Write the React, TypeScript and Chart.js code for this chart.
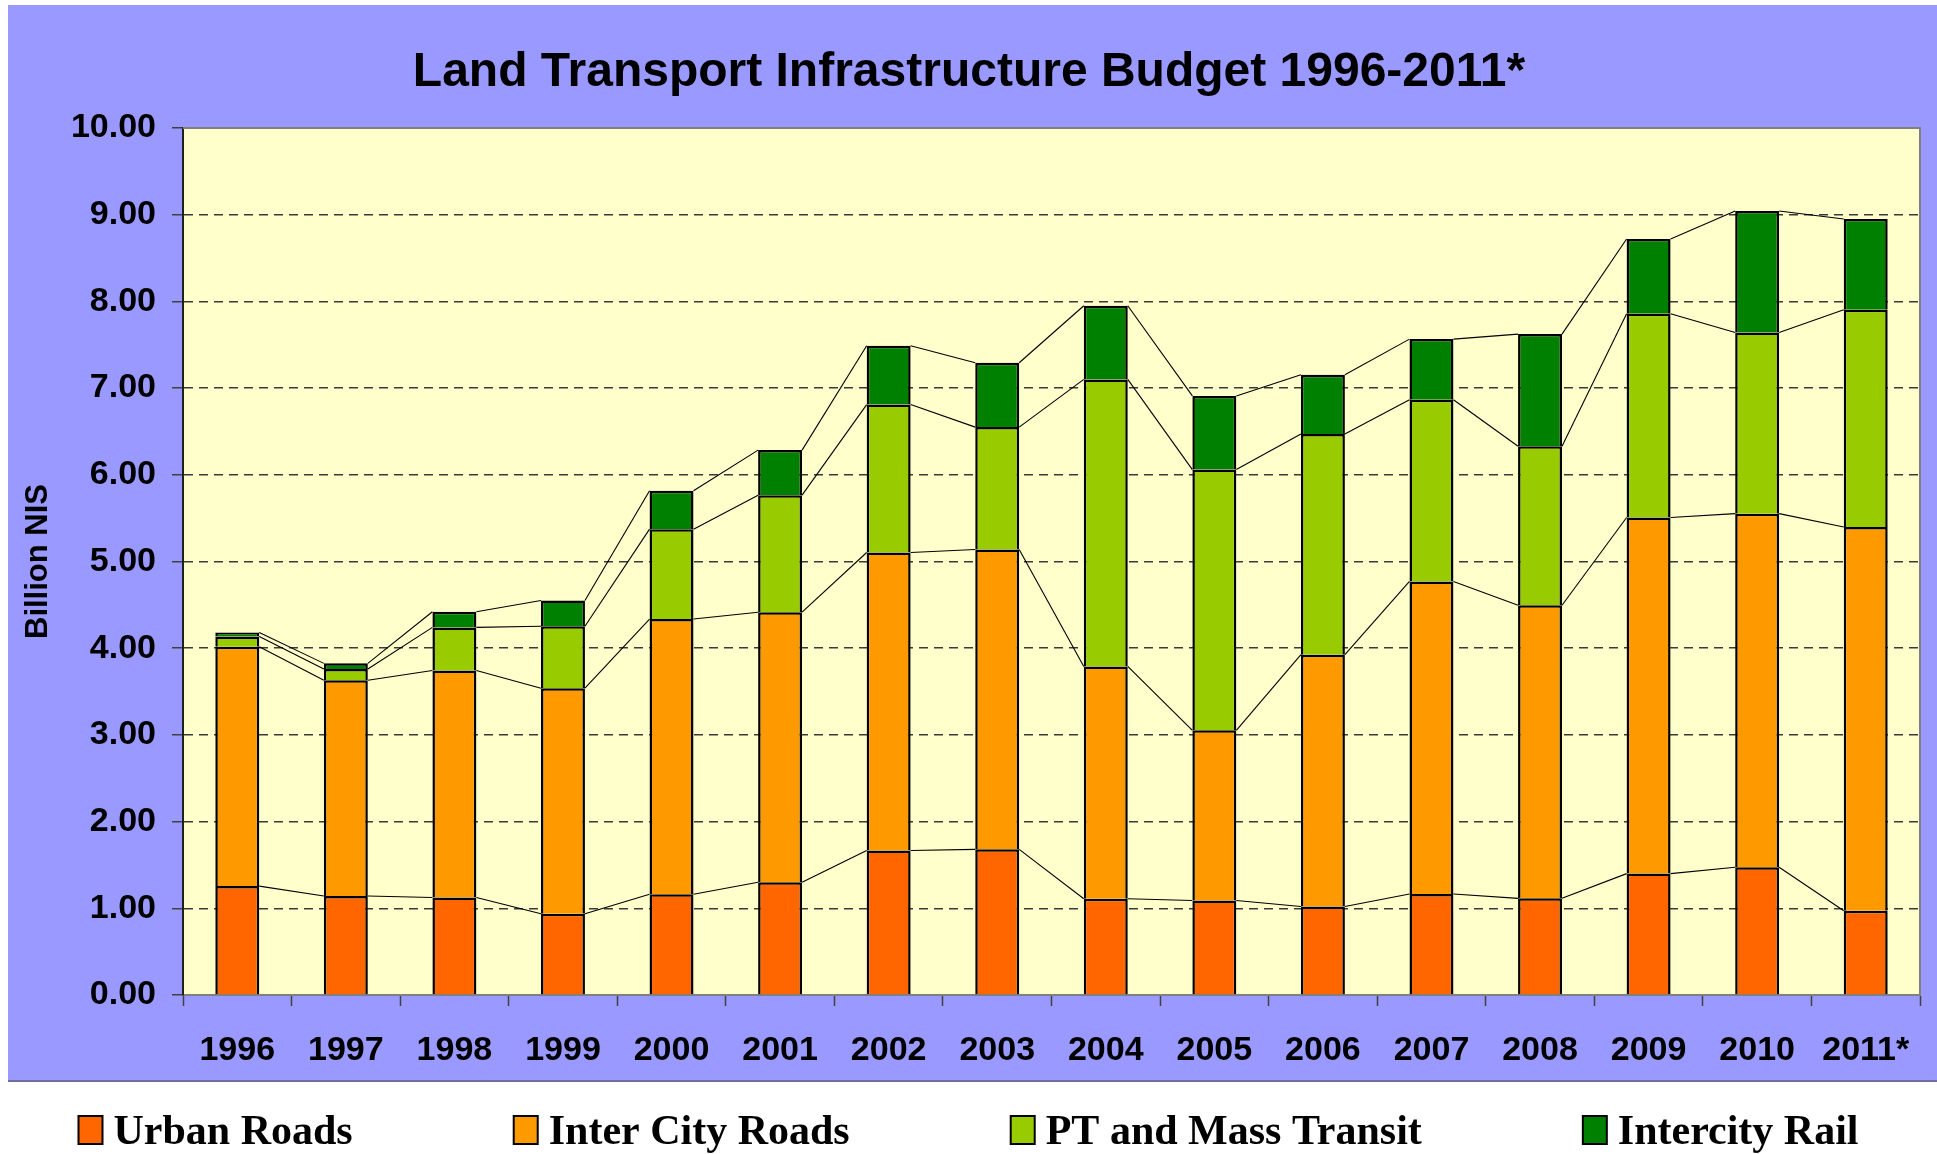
import React, { useEffect, useRef } from 'react';
import { Chart, registerables } from 'chart.js';

Chart.register(...registerables);

const W = 1937;
const H = 1154;

const categories = ['1996', '1997', '1998', '1999', '2000', '2001', '2002', '2003', '2004', '2005', '2006', '2007', '2008', '2009', '2010', '2011*'];
const seriesNames = ['Urban Roads', 'Inter City Roads', 'PT and Mass Transit', 'Intercity Rail'];
const seriesColors = ['#FF6600', '#FF9900', '#99CC00', '#008000'];

const urbanRoads = [1.256, 1.142, 1.125, 0.938, 1.162, 1.3, 1.667, 1.68, 1.11, 1.09, 1.02, 1.165, 1.115, 1.4, 1.473, 0.972];
const interCityRoads = [2.76, 2.488, 2.618, 2.601, 3.174, 3.115, 3.437, 3.458, 2.68, 1.963, 2.905, 3.605, 3.38, 4.108, 4.079, 4.426];
const ptMassTransit = [0.119, 0.13, 0.497, 0.714, 1.037, 1.35, 1.706, 1.412, 3.31, 3.007, 2.545, 2.095, 1.835, 2.35, 2.09, 2.506];
const intercityRail = [0.045, 0.065, 0.18, 0.297, 0.442, 0.52, 0.678, 0.742, 0.85, 0.85, 0.684, 0.7, 1.293, 0.862, 1.4, 1.046];

const yTicks = [0, 1, 2, 3, 4, 5, 6, 7, 8, 9, 10];

const titleText = 'Land Transport Infrastructure Budget 1996-2011*';
const yAxisTitle = 'Billion NIS';

const SANS = '"Liberation Sans", Arial, sans-serif';
const SERIF = '"Liberation Serif", "Times New Roman", serif';

const backgroundPlugin = {
  id: 'bgPlugin',
  beforeDraw(chart: any) {
    const { ctx, chartArea } = chart;
    ctx.save();
    ctx.fillStyle = '#FFFFFF';
    ctx.fillRect(0, 0, W, H);
    ctx.fillStyle = '#9999FF';
    ctx.fillRect(8, 5, W - 8, 1081 - 5);
    ctx.strokeStyle = '#6F6F9F';
    ctx.lineWidth = 2;
    ctx.beginPath();
    ctx.moveTo(8, 1081);
    ctx.lineTo(W, 1081);
    ctx.stroke();
    ctx.fillStyle = '#FFFFCC';
    ctx.fillRect(chartArea.left, chartArea.top, chartArea.right - chartArea.left, chartArea.bottom - chartArea.top);
    ctx.restore();
  },
  afterDatasetsDraw(chart: any) {
    const { ctx, chartArea } = chart;
    ctx.save();
    ctx.strokeStyle = '#000';
    ctx.lineWidth = 1.1;
    chart.data.datasets.forEach((_: any, d: number) => {
      const meta = chart.getDatasetMeta(d);
      for (let i = 0; i < meta.data.length - 1; i++) {
        const a = meta.data[i].getProps(['x', 'y', 'width'], true);
        const b = meta.data[i + 1].getProps(['x', 'y', 'width'], true);
        ctx.beginPath();
        ctx.moveTo(a.x + a.width / 2, a.y);
        ctx.lineTo(b.x - b.width / 2, b.y);
        ctx.stroke();
      }
    });
    ctx.strokeStyle = '#808080';
    ctx.lineWidth = 2;
    ctx.beginPath();
    ctx.moveTo(chartArea.left, chartArea.top);
    ctx.lineTo(chartArea.right, chartArea.top);
    ctx.lineTo(chartArea.right, chartArea.bottom);
    ctx.stroke();
    ctx.restore();
  },
  afterDraw(chart: any) {
    const { ctx } = chart;
    ctx.save();
    ctx.fillStyle = '#000';
    ctx.font = `bold 48px ${SANS}`;
    ctx.textAlign = 'center';
    ctx.textBaseline = 'alphabetic';
    ctx.fillText(titleText, 969, 86);
    ctx.font = `bold 42px ${SERIF}`;
    ctx.textAlign = 'left';
    const boxW = 24;
    const boxH = 28;
    const gapBox = 11;
    const gapItem = 161;
    const items = chart.data.datasets.map((ds: any) => ({
      label: ds.label,
      color: ds.backgroundColor,
      w: boxW + gapBox + ctx.measureText(ds.label).width,
    }));
    const total = items.reduce((s: number, it: any) => s + it.w, 0) + gapItem * (items.length - 1);
    let x = (W - total) / 2;
    const baseline = 1144;
    items.forEach((it: any) => {
      ctx.fillStyle = it.color;
      ctx.fillRect(x, baseline - boxH, boxW, boxH);
      ctx.strokeStyle = '#000';
      ctx.lineWidth = 2;
      ctx.strokeRect(x, baseline - boxH, boxW, boxH);
      ctx.fillStyle = '#000';
      ctx.fillText(it.label, x + boxW + gapBox, baseline);
      x += it.w + gapItem;
    });
    ctx.restore();
  },
};

export default function App() {
  const ref = useRef<HTMLCanvasElement>(null);
  useEffect(() => {
    document.body.style.margin = '0';
    document.body.style.overflow = 'hidden';
    const values = [urbanRoads, interCityRoads, ptMassTransit, intercityRail];
    const chart = new Chart(ref.current as HTMLCanvasElement, {
      type: 'bar',
      data: {
        labels: categories,
        datasets: seriesNames.map((name, i) => ({
          label: name,
          data: values[i],
          backgroundColor: seriesColors[i],
          borderColor: '#000000',
          borderWidth: 2.5,
          barPercentage: 0.405,
          categoryPercentage: 1.0,
        })),
      },
      options: {
        responsive: false,
        animation: false,
        devicePixelRatio: 1,
        layout: { padding: { top: 128, left: 8, right: W - 1920, bottom: H - 1081 } },
        plugins: {
          legend: { display: false },
          title: { display: false },
          tooltip: { enabled: false },
        },
        scales: {
          x: {
            stacked: true,
            grid: {
              display: true,
              drawOnChartArea: false,
              drawTicks: true,
              tickLength: 11,
              tickColor: '#404040',
              tickWidth: 1.5,
              offset: true,
            },
            border: { display: true, color: '#808080', width: 2 },
            ticks: {
              color: '#000',
              font: { family: SANS, size: 34, weight: 'bold' },
              padding: 24,
              maxRotation: 0,
              autoSkip: false,
            },
            afterFit: (s: any) => {
              s.height = 1081 - 995;
            },
          },
          y: {
            stacked: true,
            min: 0,
            max: 10,
            afterBuildTicks: (s: any) => {
              s.ticks = yTicks.map((v) => ({ value: v }));
            },
            grid: {
              display: true,
              drawOnChartArea: true,
              drawTicks: true,
              tickLength: 11,
              tickColor: '#404040',
              tickWidth: 1.5,
              lineWidth: 1.5,
              color: (c: any) => (c.tick && (c.tick.value === 0 || c.tick.value === 10) ? 'rgba(0,0,0,0)' : '#3A3A3A'),
            },
            border: { display: true, color: '#202020', width: 2, dash: [9, 6] },
            ticks: {
              color: '#000',
              font: { family: SANS, size: 34, weight: 'bold' },
              padding: 16,
              callback: (v: any) => Number(v).toFixed(2),
            },
            title: {
              display: true,
              text: yAxisTitle,
              color: '#000',
              font: { family: SANS, size: 31, weight: 'bold' },
              padding: { top: 12, bottom: 0 },
            },
            afterFit: (s: any) => {
              s.width = 183 - 8;
            },
          },
        },
      },
      plugins: [backgroundPlugin],
    } as any);
    return () => chart.destroy();
  }, []);
  return (
    <div style={{ width: W, height: H, position: 'relative', overflow: 'hidden' }}>
      <canvas ref={ref} width={W} height={H} style={{ display: 'block', width: W, height: H }} />
    </div>
  );
}
